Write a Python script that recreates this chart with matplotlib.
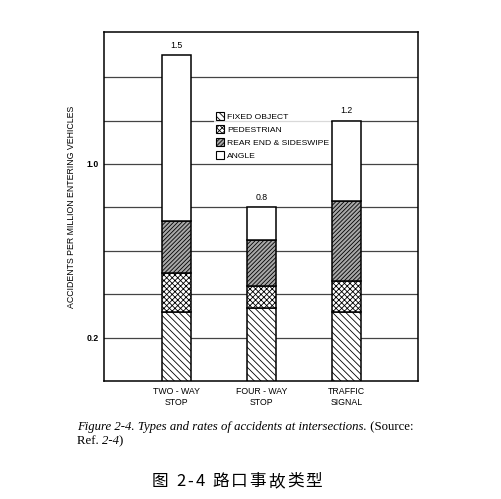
import numpy as np
import matplotlib
matplotlib.use("Agg")
import matplotlib.pyplot as plt
from matplotlib.patches import Patch

# data
categories = ["TWO - WAY\nSTOP", "FOUR - WAY\nSTOP", "TRAFFIC\nSIGNAL"]
fixed_object = [0.32, 0.34, 0.32]
pedestrian = [0.18, 0.10, 0.14]
rear_end = [0.24, 0.21, 0.37]
angle = [0.76, 0.15, 0.37]
totals = ["1.5", "0.8", "1.2"]
ytick_vals = [0.2, 1.0]
grid_vals = [0.2, 0.4, 0.6, 0.8, 1.0, 1.2, 1.4]

plt.rcParams["font.family"] = ["Liberation Sans", "DejaVu Sans"]
plt.rcParams["hatch.linewidth"] = 0.6

fig = plt.figure(figsize=(5.01, 4.99), dpi=100)
ax = fig.add_axes([0.2076, 0.2355, 0.6267, 0.7004])

x = np.arange(len(categories))
w = 0.34
series = [
    (fixed_object, "white", "\\\\\\\\\\", "FIXED OBJECT"),
    (pedestrian, "white", "xxxxxx", "PEDESTRIAN"),
    (rear_end, "#a8a8a8", "////////", "REAR END & SIDESWIPE"),
    (angle, "white", "", "ANGLE"),
]
bottom = np.zeros(len(categories))
for vals, fc, hatch, lab in series:
    ax.bar(x, vals, w, bottom=bottom, color=fc, edgecolor="black",
           hatch=hatch, linewidth=1.1, zorder=3)
    bottom += np.array(vals)

for xi, top, txt in zip(x, bottom, totals):
    ax.text(xi, top + 0.025, txt, ha="center", va="bottom", fontsize=6.3)

for g in grid_vals:
    ax.axhline(g, color="#444444", linewidth=0.9, zorder=1)

ax.set_xlim(-0.85, 2.84)
ax.set_ylim(0, 1.607)
ax.set_yticks(ytick_vals)
ax.set_yticklabels(["0.2", "1.0"], fontsize=6.3, fontweight="bold")
ax.set_xticks(x)
ax.set_xticklabels(categories, fontsize=6.3, linespacing=1.35)
ax.tick_params(length=0, pad=4)
ax.set_ylabel("ACCIDENTS PER MILLION ENTERING VEHICLES", fontsize=6.3, labelpad=7)
for s in ax.spines.values():
    s.set_linewidth(1.1)

handles = [Patch(facecolor=fc, edgecolor="black", hatch=h, linewidth=0.8, label=lab)
           for _, fc, h, lab in series]
leg = ax.legend(handles=handles, loc="upper left", bbox_to_anchor=(0.35, 0.776),
                fontsize=6.1, frameon=True, fancybox=False, handlelength=1.05,
                handleheight=1.05, handletextpad=0.35, labelspacing=0.5,
                borderpad=0.2, borderaxespad=0)
leg.get_frame().set_edgecolor("none")
leg.set_zorder(2)

# caption with mixed italic / upright pieces
fig.canvas.draw()
r = fig.canvas.get_renderer()


def put_pieces(pieces, x0, y0, size, family, gap=0.0):
    xx = x0
    for txt, style in pieces:
        t = fig.text(xx, y0, txt, fontsize=size, family=family,
                     style=style, ha="left", va="baseline")
        bb = t.get_window_extent(renderer=r)
        xx += (bb.width + gap) / fig.bbox.width


put_pieces([("Figure 2-4. Types and rates of accidents at intersections.", "italic"),
            (" (Source:", "normal")], 77 / 501, 1 - 430 / 499, 9.2, "Liberation Serif")
put_pieces([("Ref. ", "normal"), ("2-4", "italic"), (")", "normal")],
           77 / 501, 1 - 444 / 499, 9.2, "Liberation Serif")

title_cn = ["图", " ", "2", "-", "4", " ", "路", "口", "事", "故", "类", "型"]
put_pieces([(c, "normal") for c in title_cn], 152 / 501, 1 - 486 / 499, 12,
           ["Noto Sans CJK SC", "DejaVu Sans"], gap=2.0)

fig.savefig("out.png", dpi=100)
